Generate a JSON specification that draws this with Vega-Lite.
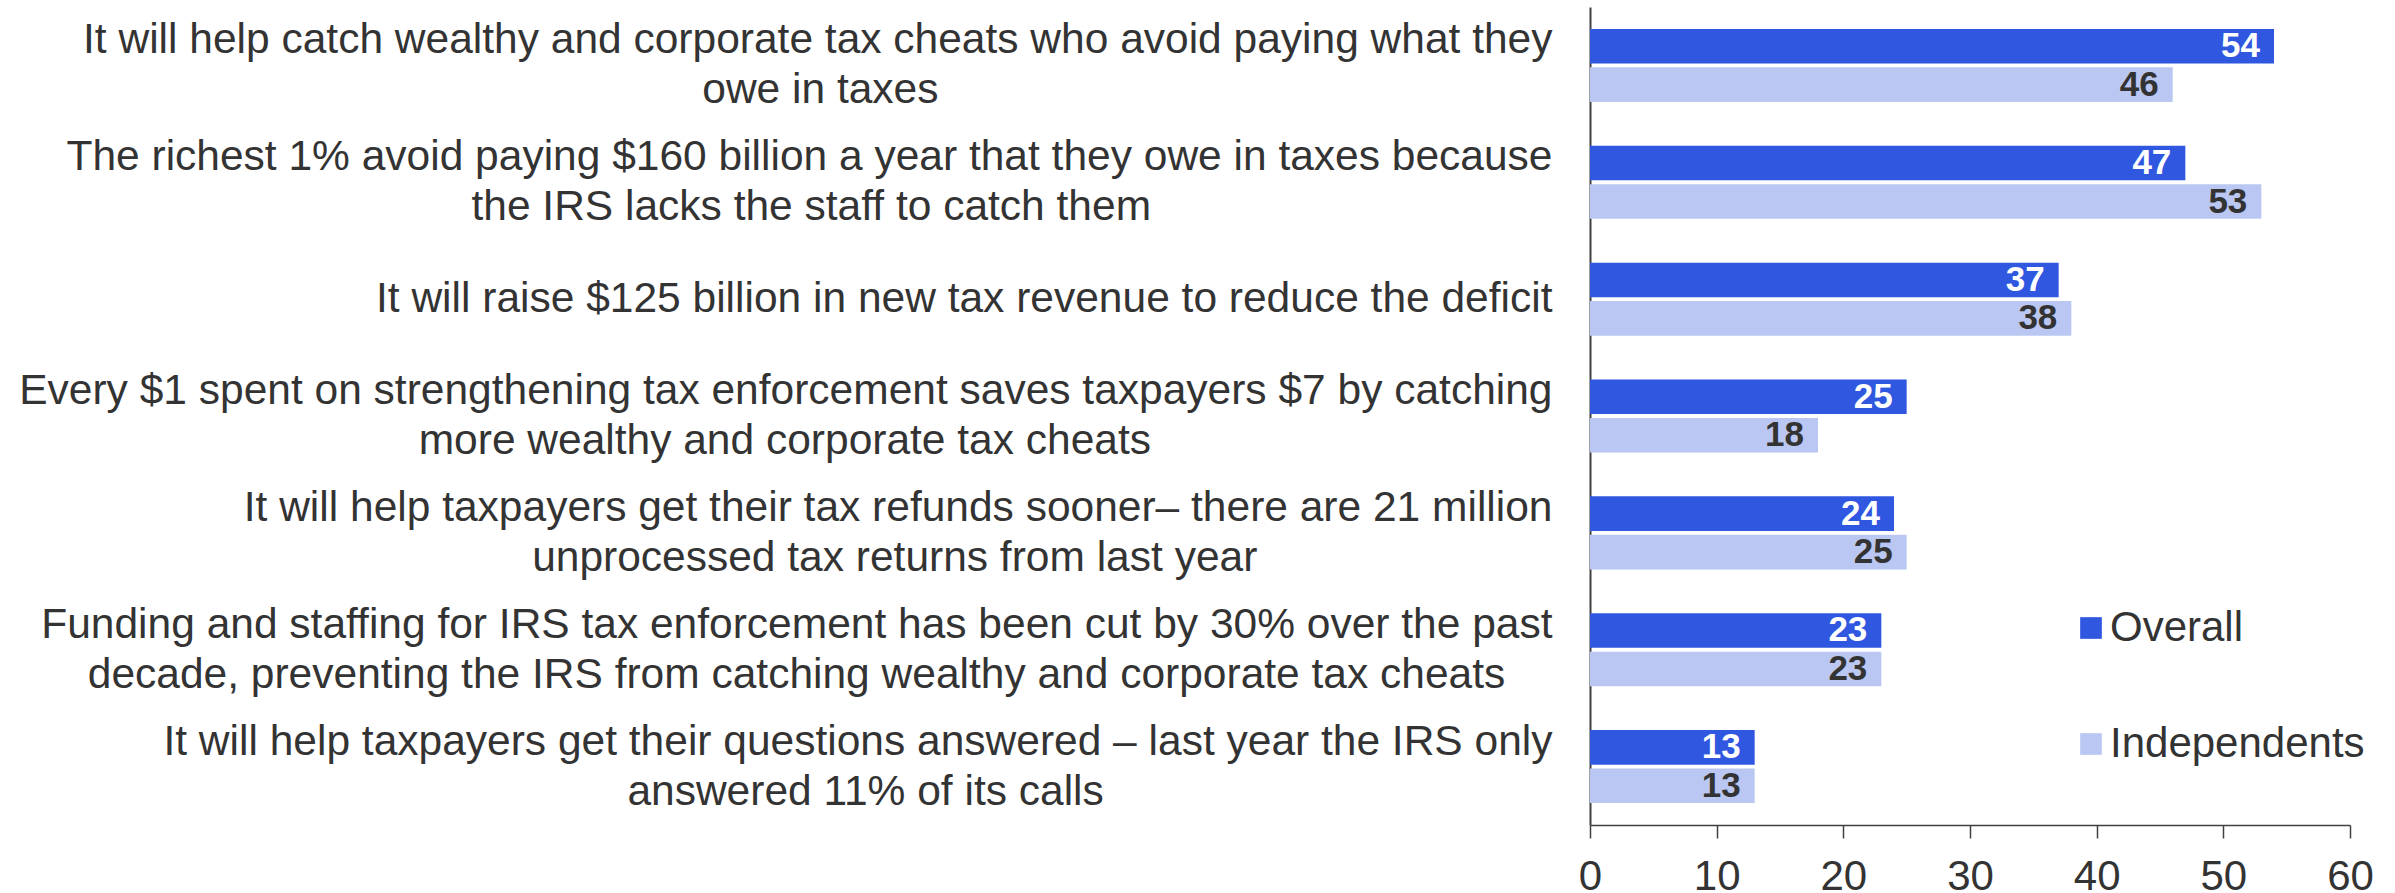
{
  "$schema": "https://vega.github.io/schema/vega-lite/v6.json",
  "width": 760,
  "height": 818,
  "autosize": {"type": "none"},
  "padding": {"left": 1590, "top": 7, "right": 45, "bottom": 68},
  "background": "white",
  "config": {"view": {"stroke": null}, "font": "Liberation Sans"},
  "data": {
    "values": [
      {"category": "It will help catch wealthy and corporate tax cheats who avoid paying what they|owe in taxes\u00a0\u00a0\u00a0\u00a0\u00a0\u00a0\u00a0\u00a0\u00a0\u00a0\u00a0\u00a0\u00a0\u00a0\u00a0\u00a0\u00a0\u00a0\u00a0\u00a0\u00a0\u00a0\u00a0\u00a0\u00a0\u00a0\u00a0\u00a0\u00a0\u00a0\u00a0\u00a0\u00a0\u00a0\u00a0\u00a0\u00a0\u00a0\u00a0\u00a0\u00a0\u00a0\u00a0\u00a0\u00a0\u00a0\u00a0\u00a0\u00a0\u00a0\u00a0\u00a0\u200b", "Overall": 54, "Independents": 46},
      {"category": "The richest 1% avoid paying $160 billion a year that they owe in taxes because|the IRS lacks the staff to catch them\u00a0\u00a0\u00a0\u00a0\u00a0\u00a0\u00a0\u00a0\u00a0\u00a0\u00a0\u00a0\u00a0\u00a0\u00a0\u00a0\u00a0\u00a0\u00a0\u00a0\u00a0\u00a0\u00a0\u00a0\u00a0\u00a0\u00a0\u00a0\u00a0\u00a0\u00a0\u00a0\u00a0\u00a0\u200b", "Overall": 47, "Independents": 53},
      {"category": "It will raise $125 billion in new tax revenue to reduce the deficit", "Overall": 37, "Independents": 38},
      {"category": "Every $1 spent on strengthening tax enforcement saves taxpayers $7 by catching|more wealthy and corporate tax cheats\u00a0\u00a0\u00a0\u00a0\u00a0\u00a0\u00a0\u00a0\u00a0\u00a0\u00a0\u00a0\u00a0\u00a0\u00a0\u00a0\u00a0\u00a0\u00a0\u00a0\u00a0\u00a0\u00a0\u00a0\u00a0\u00a0\u00a0\u00a0\u00a0\u00a0\u00a0\u00a0\u00a0\u00a0\u200b", "Overall": 25, "Independents": 18},
      {"category": "It will help taxpayers get their tax refunds sooner\u2013 there are 21 million|unprocessed tax returns from last year\u00a0\u00a0\u00a0\u00a0\u00a0\u00a0\u00a0\u00a0\u00a0\u00a0\u00a0\u00a0\u00a0\u00a0\u00a0\u00a0\u00a0\u00a0\u00a0\u00a0\u00a0\u00a0\u00a0\u00a0\u00a0\u200b", "Overall": 24, "Independents": 25},
      {"category": "Funding and staffing for IRS tax enforcement has been cut by 30% over the past|decade, preventing the IRS from catching wealthy and corporate tax cheats\u00a0\u00a0\u00a0\u00a0\u200b", "Overall": 23, "Independents": 23},
      {"category": "It will help taxpayers get their questions answered \u2013 last year the IRS only|answered 11% of its calls\u00a0\u00a0\u00a0\u00a0\u00a0\u00a0\u00a0\u00a0\u00a0\u00a0\u00a0\u00a0\u00a0\u00a0\u00a0\u00a0\u00a0\u00a0\u00a0\u00a0\u00a0\u00a0\u00a0\u00a0\u00a0\u00a0\u00a0\u00a0\u00a0\u00a0\u00a0\u00a0\u00a0\u00a0\u00a0\u00a0\u00a0\u00a0\u200b", "Overall": 13, "Independents": 13}
    ]
  },
  "transform": [
    {"fold": ["Overall", "Independents"], "as": ["group", "value"]}
  ],
  "encoding": {
    "y": {
      "field": "category",
      "type": "nominal",
      "sort": null,
      "scale": {"paddingInner": 0.375, "paddingOuter": 0.1875},
      "axis": {
        "title": null,
        "ticks": false,
        "domain": true,
        "domainColor": "#404040",
        "domainWidth": 2,
        "labelFontSize": 42.5,
        "labelColor": "#333333",
        "labelPadding": 38,
        "labelLimit": 1600,
        "labelLineHeight": 50,
        "labelAlign": "right",
        "labelBaseline": "middle",
        "labelOffset": {"condition": {"test": "indexof(datum.value, '|') >= 0", "value": -25}, "value": 0},
        "labelExpr": "split(datum.label, '|')"
      }
    },
    "yOffset": {
      "field": "group",
      "type": "nominal",
      "sort": ["Overall", "Independents"],
      "scale": {"paddingInner": 0.1, "paddingOuter": 0}
    },
    "x": {
      "field": "value",
      "type": "quantitative",
      "scale": {"domain": [0, 60], "nice": false},
      "axis": {
        "title": null,
        "grid": false,
        "values": [0, 10, 20, 30, 40, 50, 60],
        "tickSize": 13,
        "tickColor": "#404040",
        "tickWidth": 1.5,
        "domainColor": "#404040",
        "domainWidth": 1.5,
        "labelFontSize": 42,
        "labelColor": "#333333",
        "labelPadding": 18,
        "labelFlush": false
      }
    }
  },
  "layer": [
    {
      "mark": {"type": "bar"},
      "encoding": {
        "color": {
          "field": "group",
          "type": "nominal",
          "scale": {"domain": ["Overall", "Independents"], "range": ["#2F57E0", "#BAC7F2"]},
          "legend": {
            "title": null,
            "orient": "none",
            "legendX": 480,
            "legendY": 600,
            "symbolType": "square",
            "symbolSize": 470,
            "symbolStrokeWidth": 0,
            "symbolOpacity": 1,
            "labelFontSize": 42,
            "labelColor": "#333333",
            "labelOffset": -2,
            "labelLimit": 600,
            "rowPadding": 74,
            "padding": 0
          }
        }
      }
    },
    {
      "mark": {"type": "text", "align": "right", "baseline": "middle", "dx": -14, "fontWeight": "bold", "fontSize": 35},
      "encoding": {
        "text": {"field": "value", "type": "quantitative"},
        "color": {
          "condition": {"test": "datum.group === 'Overall'", "value": "#FFFFFF"},
          "value": "#333333"
        }
      }
    }
  ]
}
